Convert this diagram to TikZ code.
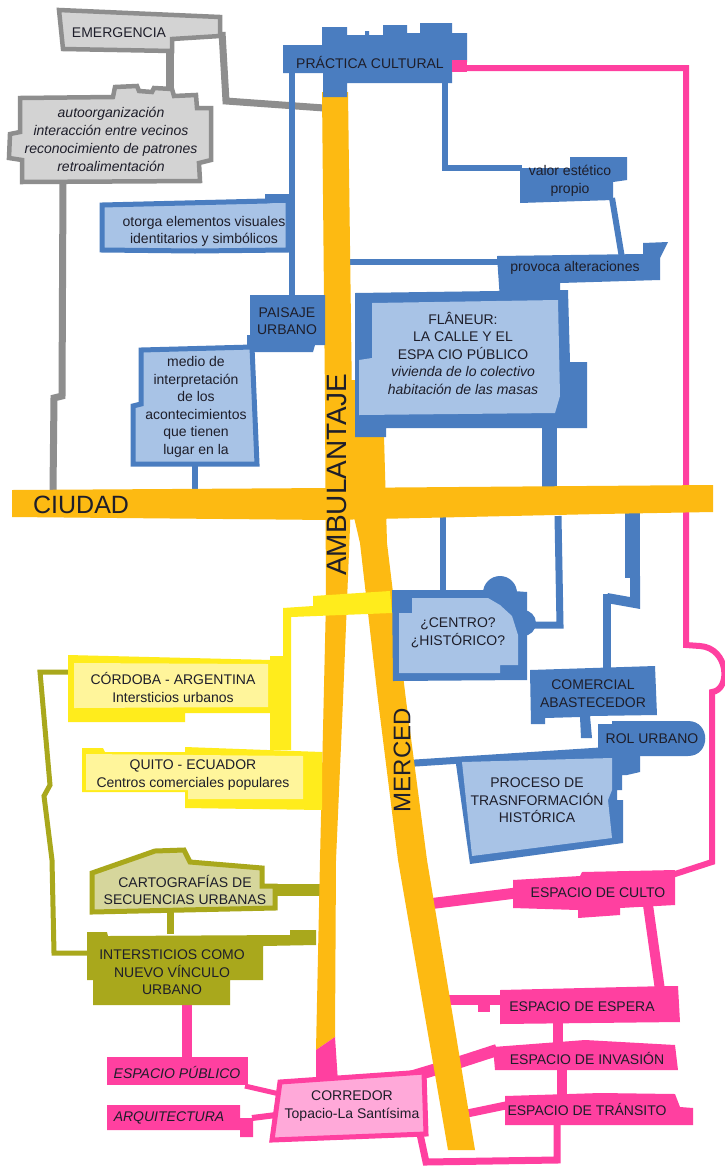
\documentclass[tikz,border=0pt]{standalone}
\usepackage{fontspec}
\setmainfont{Liberation Sans}
\definecolor{streetY}{HTML}{FDBA12}
\definecolor{brightY}{HTML}{FFEC1C}
\definecolor{lightY}{HTML}{FFF59B}
\definecolor{blueD}{HTML}{4A7DC0}
\definecolor{blueL}{HTML}{A8C3E6}
\definecolor{grayD}{HTML}{8E8E8E}
\definecolor{grayL}{HTML}{D3D3D3}
\definecolor{oliveD}{HTML}{A9A81C}
\definecolor{oliveL}{HTML}{D6D69C}
\definecolor{pinkD}{HTML}{FF40A0}
\definecolor{pinkL}{HTML}{FFA9D9}
\definecolor{ink}{HTML}{1E1E2A}
\tikzset{
  lbl/.style={font=\fontsize{14}{17.5}\selectfont, text=ink, align=center, inner sep=0pt},
  itl/.style={font=\fontsize{14}{17.5}\selectfont\itshape, text=ink, align=center, inner sep=0pt},
  gl/.style={draw=grayD, line width=7pt},
  bl/.style={draw=blueD, line width=6pt},
  ol/.style={draw=oliveD, line width=5pt},
  pl/.style={draw=pinkD, line width=8pt},
  street/.style={fill=streetY},
  streetlbl/.style={text=ink, inner sep=0pt}
}
\begin{document}
\begin{tikzpicture}[x=1pt,y=-1pt]
\useasboundingbox (0,0) rectangle (725,1171);
\fill[white] (0,0) rectangle (725,1171);

% ---------------- connectors (under streets and boxes)
% gray
\draw[gl, line width=8pt] (170,50) -- (170,93);
\draw[gl] (222,32) -- (226,101) -- (324,108);
\draw[gl] (63,180) -- (62,396) -- (54,398) -- (53,490);
% blue
\draw[bl] (292,73) -- (292,297);
\draw[bl] (445,83) -- (445,168) -- (522,168);
\draw[bl] (612,198) -- (622,258);
\draw[bl] (347,262) -- (500,262);
\draw[bl] (195,466) -- (195,490);
\draw[bl] (443,516) -- (443,592);
\draw[bl, line width=7pt] (558,516) -- (560,625) -- (528,625);
\draw[bl, line width=15pt] (549,426) -- (549,490);
\draw[bl, line width=15pt] (632,511) -- (632,578);
\draw[bl, line width=10pt] (635,576) -- (635,603) -- (607,598);
\draw[bl, line width=8pt] (607,594) -- (607,672);
\draw[bl, line width=7pt] (400,764) -- (600,751);
% olive
\draw[ol] (70,672) -- (40,672) -- (50,785) -- (44,796) -- (52,860) -- (54,953) -- (90,953);
\draw[draw=oliveD, line width=12pt] (272,890) -- (320,890);
\draw[draw=oliveD, line width=7pt] (170,910) -- (170,934);
% pink
\draw[pl, line width=6pt] (460,68) -- (686,68) -- (686,645) -- (700,646)
   .. controls (729,648) and (731,690) .. (712,692) -- (712,862) -- (672,875);
\draw[pl, line width=10pt] (187,1003) -- (187,1059);
\draw[pl, line width=5pt] (245,1086) -- (284,1095);
\draw[pl, line width=6pt] (252,1118) -- (284,1114);
\draw[pl, line width=11pt] (420,905) -- (516,893);
\draw[pl, line width=10pt] (648,905) -- (660,990);
\draw[pl, line width=10pt] (445,1000) -- (502,1000);
\fill[pinkD] (478,1000) rectangle (490,1012);
\draw[pl, line width=10pt] (558,1020) -- (558,1046);
\draw[pl, line width=12pt] (400,1080) -- (460,1062) -- (497,1050);
\draw[pl, line width=10pt] (562,1066) -- (562,1096);
\draw[pl, line width=8pt] (460,1115) -- (508,1105);
\draw[pl, line width=7pt] (420,1134) -- (426,1162) -- (557,1160) -- (557,1122);

% ---------------- streets
\fill[street] (322,92) -- (348,92) -- (352,400) -- (350,527) -- (343,700) -- (336,860)
   -- (335,1037) -- (316,1050) -- (320,860) -- (326,600) -- (325,400) -- cycle;
\fill[street] (346,380) -- (358,380) -- (358,436) -- (384,436) -- (387,543) -- (406,700)
   -- (427,860) -- (475,1150) -- (448,1150) -- (398,860) -- (378,700) -- (360,543) -- (350,500) -- cycle;
\fill[street] (12,490) -- (330,488) -- (713,485) -- (713,512) -- (600,514) -- (330,520) -- (12,517) -- cycle;
\fill[pinkD] (316,1050) -- (335,1037) -- (338,1082) -- (316,1084) -- cycle;
\fill[brightY] (283,608) -- (313,606) -- (313,596) -- (390,591) -- (392,613) -- (291,617)
   -- (291,750) -- (270,750) -- (270,656) -- (283,656) -- cycle;

\node[streetlbl, font=\fontsize{25}{25}\selectfont, anchor=west] (ciudad) at (33,505) {CIUDAD};
\node[streetlbl, font=\fontsize{28}{28}\selectfont, rotate=90] (ambul) at (337,475) {AMBULANTAJE};
\node[streetlbl, font=\fontsize{24}{24}\selectfont, rotate=90] (merced) at (402,760) {MERCED};

% ---------------- gray boxes
\filldraw[fill=grayL, draw=grayD, line width=4.5pt] (59,10) -- (220,17) -- (220,36) -- (172,39)
   -- (172,51) -- (63,49) -- cycle;
\node[lbl] (emerg) at (119,33) {EMERGENCIA};
\filldraw[fill=grayL, draw=grayD, line width=4.5pt] (20,98) -- (113,97) -- (115,87) -- (137,86)
   -- (139,91) -- (152,92) -- (154,88) -- (172,89) -- (174,96) -- (196,95) -- (197,108) -- (211,108)
   -- (211,160) -- (199,163) -- (200,181) -- (22,182) -- (22,160) -- (9,158) -- (10,134) -- (20,132) -- cycle;
\node[itl, font=\fontsize{14}{18}\selectfont\itshape] (auto) at (111,139)
   {autoorganización\\interacción entre vecinos\\reconocimiento de patrones\\retroalimentación};

% ---------------- blue boxes
\fill[blueD] (283,45) -- (322,45) -- (322,27) -- (347,27) -- (347,35) -- (365,35) -- (365,31)
   -- (369,31) -- (369,35) -- (383,35) -- (383,25) -- (407,25) -- (407,33) -- (420,33) -- (420,23)
   -- (452,23) -- (452,33) -- (467,33) -- (467,62) -- (452,62) -- (452,83) -- (347,83) -- (347,97)
   -- (323,97) -- (323,73) -- (283,73) -- cycle;
\fill[pinkD] (452,60) rectangle (467,72);
\node[lbl] (practica) at (370,62) {PRÁCTICA CULTURAL};

\fill[blueD] (520,168) -- (570,168) -- (570,157) -- (627,157) -- (627,180) -- (613,182)
   -- (613,200) -- (520,203) -- cycle;
\node[lbl] (valor) at (570,181) {valor estético\\propio};

\fill[blueD] (497,256) -- (643,254) -- (643,243) -- (668,242) -- (660,258) -- (660,280)
   -- (560,283) -- (560,300) -- (500,300) -- cycle;
\node[lbl] (provoca) at (575,268) {provoca alteraciones};

\filldraw[fill=blueL, draw=blueD, line width=5pt] (102,205) -- (267,201) -- (288,199) -- (288,250)
   -- (195,251) -- (102,250) -- cycle;
\fill[blueD] (265,194) rectangle (291,203);
\node[lbl] (otorga) at (204,231.5) {otorga elementos visuales\\identitarios y simbólicos};

\fill[blueD] (250,295) -- (325,295) -- (325,345) -- (315,345) -- (313,352) -- (247,352)
   -- (247,335) -- (250,335) -- cycle;
\node[lbl] (paisaje) at (287,321) {PAISAJE\\URBANO};

\filldraw[fill=blueL, draw=blueD, line width=5pt] (141,350) -- (252,347) -- (257,464) -- (133,464)
   -- (133,406) -- (141,404) -- cycle;
\node[lbl] (medio) at (196,407)
   {medio de\\interpretación\\de los\\acontecimientos\\que tienen\\lugar en la};

\fill[blueD] (355,293) -- (568,290) -- (570,362) -- (587,362) -- (587,428) -- (386,428)
   -- (386,437) -- (355,437) -- cycle;
\fill[blueL] (372,303) -- (558,300) -- (560,396) -- (555,413) -- (359,415) -- (359,360) -- (372,358) -- cycle;
\node[lbl] (flaneur) at (463,353)
   {FLÂNEUR:\\LA CALLE Y EL\\ESPA CIO PÚBLICO\\\textit{vivienda de lo colectivo}\\\textit{habitación de las masas}};

\fill[blueD] (392,590) -- (500,590) -- (527,592) -- (527,680) -- (393,681) -- cycle;
\fill[blueD] (500,593) circle (17);
\fill[blueD] (523,623) circle (13);
\fill[blueL] (412,598) -- (488,598) -- (500,605) -- (512,616) -- (518,635) -- (518,665) -- (500,665)
   -- (500,673) -- (399,673) -- (399,613) -- (412,613) -- cycle;
\node[lbl] (centro) at (458,633) {¿CENTRO?\\¿HISTÓRICO?};

\fill[blueD] (530,670) -- (655,666) -- (657,715) -- (590,716) -- (592,738) -- (581,738)
   -- (580,717) -- (545,718) -- (545,724) -- (531,724) -- cycle;
\node[lbl] (comercial) at (593,693.5) {COMERCIAL\\ABASTECEDOR};

\fill[blueD] (598,724) -- (612,724) -- (612,721) -- (688,721) .. controls (711,721) and (711,756) .. (688,756)
   -- (598,756) -- cycle;
\node[lbl] (rol) at (652,739) {ROL URBANO};

\fill[blueD] (455,757) -- (612,751) -- (640,750) -- (640,772) -- (627,775) -- (622,775) -- (622,790)
   -- (617,790) -- (617,800) -- (623,800) -- (623,843) -- (470,864) -- cycle;
\fill[blueL] (462,762) -- (612,758) -- (612,790) -- (608,800) -- (612,838) -- (472,856) -- cycle;
\node[lbl] (proceso) at (537,800.5) {PROCESO DE\\TRASNFORMACIÓN\\HISTÓRICA};

% ---------------- yellow boxes
\fill[brightY] (68,655) -- (272,660) -- (272,713) -- (185,713) -- (185,722) -- (68,722) -- cycle;
\fill[lightY] (74,663) -- (268,664) -- (268,707) -- (74,708) -- cycle;
\node[lbl] (cordoba) at (173,687.5) {CÓRDOBA - ARGENTINA\\Intersticios urbanos};

\fill[brightY] (82,748) -- (103,748) -- (105,752) -- (185,752) -- (185,747) -- (322,752) -- (322,810)
   -- (185,808) -- (185,792) -- (82,792) -- cycle;
\fill[lightY] (86,754) -- (303,756) -- (303,799) -- (188,799) -- (188,790) -- (86,790) -- cycle;
\node[lbl] (quito) at (193,775) {QUITO - ECUADOR\\Centros comerciales populares};

% ---------------- olive boxes
\filldraw[fill=oliveL, draw=oliveD, line width=5pt] (92,873) -- (155,851) -- (184,850) -- (190,862)
   -- (262,868) -- (262,886) -- (275,886) -- (275,908) -- (92,912) -- cycle;
\node[lbl] (carto) at (185,890) {CARTOGRAFÍAS DE\\SECUENCIAS URBANAS};

\fill[oliveD] (87,932) -- (107,932) -- (108,936) -- (290,935) -- (290,930) -- (316,930) -- (316,945)
   -- (263,946) -- (263,980) -- (230,980) -- (230,1005) -- (93,1005) -- (93,980) -- (87,980) -- cycle;
\node[lbl] (inters) at (172,972.5) {INTERSTICIOS COMO\\NUEVO VÍNCULO\\URBANO};

% ---------------- pink boxes
\fill[pinkD] (107,1057) rectangle (248,1085);
\node[itl] (esppub) at (177,1072) {ESPACIO PÚBLICO};
\fill[pinkD] (107,1105) -- (240,1105) -- (240,1118) -- (253,1118) -- (253,1137) -- (240,1137)
   -- (240,1130) -- (107,1130) -- cycle;
\node[itl] (arq) at (169,1118) {ARQUITECTURA};

\filldraw[fill=pinkL, draw=pinkD, line width=5pt] (280,1082) -- (424,1072) -- (426,1134) -- (272,1140) -- cycle;
\node[lbl] (corredor) at (352,1106) {CORREDOR\\Topacio-La Santísima};

\fill[pinkD] (513,880) -- (580,876) -- (582,872) -- (675,870) -- (675,905) -- (620,908) -- (620,915)
   -- (578,918) -- (578,910) -- (513,908) -- cycle;
\node[lbl] (culto) at (598,893) {ESPACIO DE CULTO};

\fill[pinkD] (500,990) -- (668,986) -- (678,986) -- (680,1022) -- (500,1024) -- cycle;
\node[lbl] (espera) at (582,1007) {ESPACIO DE ESPERA};

\fill[pinkD] (493,1047) -- (585,1040) -- (675,1045) -- (678,1070) -- (495,1070) -- cycle;
\node[lbl] (invasion) at (587,1058) {ESPACIO DE INVASIÓN};

\fill[pinkD] (505,1096) -- (600,1093) -- (675,1094) -- (680,1107) -- (693,1108) -- (693,1125)
   -- (505,1125) -- cycle;
\node[lbl] (transito) at (587,1109) {ESPACIO DE TRÁNSITO};
\end{tikzpicture}
\end{document}
